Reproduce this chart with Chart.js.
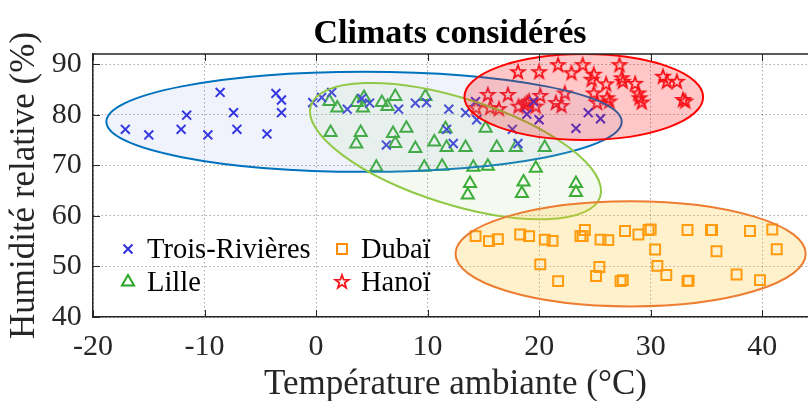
<!DOCTYPE html>
<html>
<head>
<meta charset="utf-8">
<script src="https://cdn.jsdelivr.net/npm/chart.js"></script>
<style>
  html, body { margin: 0; padding: 0; width: 808px; height: 401px; overflow: hidden; background: #fff; }
  #wrap { width: 900px; height: 401px; }
</style>
</head>
<body>
<div id="wrap"><canvas id="myChart" width="900" height="401"></canvas></div>
<script>
// values (temperature °C, relative humidity %)
const trX = [-17.1, -15.0, -12.1, -11.6, -9.7, -8.6, -7.4, -7.1, -4.4, -3.6, -3.1, -3.1, -0.3, 0.5, 1.4, 2.8, 4.1, 4.8,
             6.3, 7.4, 8.9, 9.9, 11.7, 11.9, 12.3, 13.4, 14.4, 14.3, 17.6, 18.1, 18.9, 19.5, 20.0, 23.3, 24.4, 25.5];
const trY = [77.1, 76.0, 77.1, 79.9, 76.0, 84.4, 80.4, 77.1, 76.2, 84.2, 82.9, 80.4, 82.4, 83.4, 84.4, 81.1, 83.2, 82.3,
             74.0, 81.1, 82.3, 82.4, 77.1, 81.1, 74.3, 80.4, 79.0, 82.6, 77.1, 74.3, 80.1, 82.6, 79.0, 77.3, 80.4, 79.2];

const lilleX = [1.2, 1.9, 3.65, 4.3, 4.2, 5.9, 6.4, 7.1, 9.8, 1.3, 4.0, 3.6, 6.9, 8.1, 7.1, 8.9, 10.6, 11.6,
                11.7, 13.4, 15.2, 16.2, 17.9, 20.5, 5.4, 9.7, 11.3, 14.1, 15.4, 19.7, 13.8, 13.6, 18.6, 18.45, 23.3, 23.3];
const lilleY = [82.6, 81.3, 82.4, 83.4, 81.3, 82.4, 81.6, 83.6, 83.6, 76.5, 76.5, 74.2, 76.3, 77.3, 74.3, 73.3, 74.6, 77.2,
                73.5, 73.5, 77.3, 73.5, 73.5, 73.5, 69.6, 69.6, 69.8, 69.6, 69.8, 69.4, 66.4, 64.1, 66.7, 64.4, 66.4, 64.6];

const dubaiX = [14.3, 15.5, 16.3, 18.3, 19.1, 20.5, 21.2, 23.7, 23.9, 24.1, 25.5, 26.2, 27.7, 28.9, 29.8, 30.0, 33.3, 35.4,
                35.5, 38.9, 40.9, 41.3, 30.4, 35.9, 20.1, 25.4, 30.6, 31.4, 21.7, 25.1, 27.3, 27.5, 33.3, 33.4, 37.7, 39.8];
const dubaiY = [56.0, 55.0, 55.4, 56.3, 56.0, 55.3, 55.05, 56.0, 56.0, 57.2, 55.3, 55.2, 57.0, 56.3, 57.2, 57.3, 57.2, 57.2,
                57.2, 57.0, 57.3, 53.4, 53.35, 53.0, 50.4, 49.9, 50.1, 48.3, 47.1, 48.1, 47.1, 47.3, 47.1, 47.2, 48.4, 47.3];

const hanoiX = [18.1, 20.0, 21.7, 22.9, 23.9, 24.9, 24.7, 27.2, 27.4, 27.5, 26.0, 28.6, 28.9, 29.0, 29.2, 31.1, 31.45, 32.35,
                32.9, 33.1, 24.9, 26.1, 26.3, 25.2, 22.3, 21.5, 22.0, 20.1, 19.7, 19.1, 18.7, 18.15, 17.2, 16.4, 15.4, 15.6, 14.35, 18.9];
const hanoiY = [88.4, 88.4, 89.8, 88.2, 89.8, 87.9, 86.9, 89.8, 87.2, 86.5, 86.0, 86.1, 84.2, 83.25, 82.4, 87.5, 86.5, 86.5,
                82.9, 82.6, 84.2, 83.25, 82.6, 82.3, 84.2, 82.3, 81.7, 83.7, 81.6, 82.6, 81.9, 81.6, 83.9, 81.1, 83.9, 81.3, 81.3, 82.3];

const labels = ['Trois-Rivières', 'Lille', 'Dubaï', 'Hanoï'];

// ellipses round each cloud: centre, half widths (data units), tilt (deg)
const ellCx = [4.3, 12.5, 28.2, 24.0];
const ellCy = [78.6, 72.8, 52.5, 83.5];
const ellRx = [23.1, 13.6, 15.7, 10.7];
const ellRy = [9.9, 10.5, 10.4, 8.5];
const ellAngle = [0, 17.5, 0, 0];

const xTicks = [-20, -10, 0, 10, 20, 30, 40];
const yTicks = [40, 50, 60, 70, 80, 90];

const serif = '"Liberation Serif", "Times New Roman", serif';
const axisCol = 'rgb(38,38,38)';
const blue = 'rgb(45,45,225)';
const green = 'rgb(40,165,40)';
const orange = 'rgb(255,140,0)';
const red = 'rgb(245,20,30)';

const ellStroke = ['rgb(0,114,189)', 'rgb(145,200,70)', 'rgb(237,125,49)', 'rgb(255,0,0)'];
const ellFill = ['rgba(120,150,225,0.11)', 'rgba(180,220,150,0.15)', 'rgba(255,200,50,0.25)', 'rgba(255,0,0,0.22)'];

// pentagram marker (chart.js 'star' is an asterisk)
function makeStar(color, R, lw) {
  const s = Math.ceil(2 * R + 2 * lw + 2);
  const c = document.createElement('canvas');
  c.width = s; c.height = s;
  const g = c.getContext('2d');
  g.strokeStyle = color;
  g.lineWidth = lw;
  g.beginPath();
  for (let k = 0; k < 10; k++) {
    const r = k % 2 === 0 ? R : R * 0.4;
    const a = -Math.PI / 2 + k * Math.PI / 5;
    const px = s / 2 + r * Math.cos(a), py = s / 2 + r * Math.sin(a);
    if (k === 0) g.moveTo(px, py); else g.lineTo(px, py);
  }
  g.closePath();
  g.stroke();
  return c;
}
const star = makeStar(red, 7, 1.8);

function pts(xs, ys) {
  return xs.map((x, i) => ({ x: x, y: ys[i] }));
}

const ellipsePlugin = {
  id: 'ellipses',
  afterDatasetsDraw(chart) {
    const { ctx, chartArea } = chart;
    const xs = chart.scales.x, ys = chart.scales.y;
    ctx.save();
    ctx.beginPath();
    ctx.rect(chartArea.left, chartArea.top, chartArea.width, chartArea.height);
    ctx.clip();
    for (let i = 0; i < ellCx.length; i++) {
      const px = xs.getPixelForValue(ellCx[i]);
      const py = ys.getPixelForValue(ellCy[i]);
      const rx = Math.abs(xs.getPixelForValue(ellCx[i] + ellRx[i]) - px);
      const ry = Math.abs(ys.getPixelForValue(ellCy[i] + ellRy[i]) - py);
      ctx.beginPath();
      ctx.ellipse(px, py, rx, ry, ellAngle[i] * Math.PI / 180, 0, 2 * Math.PI);
      ctx.fillStyle = ellFill[i];
      ctx.fill();
      ctx.lineWidth = 2;
      ctx.strokeStyle = ellStroke[i];
      ctx.stroke();
    }
    ctx.restore();
  }
};

function drawMarker(ctx, ds, x, y) {
  const r = ds.pointRadius;
  ctx.save();
  ctx.strokeStyle = ds.borderColor;
  ctx.lineWidth = ds.pointBorderWidth;
  ctx.beginPath();
  if (ds.pointStyle === 'crossRot') {
    const o = r * Math.SQRT1_2;
    ctx.moveTo(x - o, y - o); ctx.lineTo(x + o, y + o);
    ctx.moveTo(x - o, y + o); ctx.lineTo(x + o, y - o);
    ctx.stroke();
  } else if (ds.pointStyle === 'triangle') {
    for (let k = 0; k < 3; k++) {
      const a = k * 2 * Math.PI / 3;
      const px = x + Math.sin(a) * r, py = y - Math.cos(a) * r;
      if (k === 0) ctx.moveTo(px, py); else ctx.lineTo(px, py);
    }
    ctx.closePath();
    ctx.stroke();
  } else if (ds.pointStyle === 'rect') {
    const o = r * Math.SQRT1_2;
    ctx.rect(x - o, y - o, 2 * o, 2 * o);
    ctx.stroke();
  } else {
    const img = ds.pointStyle;
    ctx.drawImage(img, x - img.width / 2, y - img.height / 2);
  }
  ctx.restore();
}

// legend sits inside the axes, two columns, no frame
const legendPlugin = {
  id: 'innerLegend',
  afterDraw(chart) {
    const { ctx, chartArea } = chart;
    const cols = [chartArea.left + 35, chartArea.left + 249];
    const rows = [chartArea.top + 195, chartArea.top + 228];
    const order = [[0, 0, 0], [1, 0, 1], [2, 1, 0], [3, 1, 1]];
    ctx.save();
    ctx.font = '28.5px ' + serif;
    ctx.fillStyle = '#000';
    ctx.textBaseline = 'alphabetic';
    order.forEach(([d, c, r]) => {
      const ds = chart.data.datasets[d];
      drawMarker(ctx, ds, cols[c], rows[r]);
      ctx.fillText(ds.label, cols[c] + 19, rows[r] + 9);
    });
    ctx.restore();
  }
};

// title centred on the figure, not on the axes
const titlePlugin = {
  id: 'figTitle',
  afterDraw(chart) {
    const ctx = chart.ctx;
    ctx.save();
    ctx.font = 'bold 34px ' + serif;
    ctx.fillStyle = '#000';
    ctx.textAlign = 'center';
    ctx.textBaseline = 'alphabetic';
    ctx.fillText('Climats considérés', chart.width / 2, 43);
    ctx.restore();
  }
};

// top/right frame line and inward tick marks
const boxPlugin = {
  id: 'box',
  afterDraw(chart) {
    const { ctx, chartArea } = chart;
    const xs = chart.scales.x, ys = chart.scales.y;
    const tl = 7;
    ctx.save();
    ctx.strokeStyle = axisCol;
    ctx.lineWidth = 1.5;
    ctx.beginPath();
    ctx.moveTo(chartArea.left, chartArea.top);
    ctx.lineTo(chartArea.right, chartArea.top);
    ctx.lineTo(chartArea.right, chartArea.bottom);
    ctx.stroke();
    ctx.lineWidth = 1;
    ctx.beginPath();
    xTicks.forEach(v => {
      const px = Math.round(xs.getPixelForValue(v)) + 0.5;
      ctx.moveTo(px, chartArea.bottom); ctx.lineTo(px, chartArea.bottom - tl);
      ctx.moveTo(px, chartArea.top); ctx.lineTo(px, chartArea.top + tl);
    });
    yTicks.forEach(v => {
      const py = Math.round(ys.getPixelForValue(v)) + 0.5;
      ctx.moveTo(chartArea.left, py); ctx.lineTo(chartArea.left + tl, py);
      ctx.moveTo(chartArea.right, py); ctx.lineTo(chartArea.right - tl, py);
    });
    ctx.stroke();
    ctx.restore();
  }
};

const gridOpts = { color: 'rgba(0,0,0,0.35)', lineWidth: 1, drawTicks: false };
const borderOpts = { display: true, color: axisCol, width: 1.5, dash: [1.5, 2.5] };

const config = {
  type: 'scatter',
  data: {
    datasets: [
      { label: labels[0], data: pts(trX, trY), pointStyle: 'crossRot', pointRadius: 6.3,
        borderColor: blue, backgroundColor: 'rgba(0,0,0,0)', pointBorderWidth: 2 },
      { label: labels[1], data: pts(lilleX, lilleY), pointStyle: 'triangle', pointRadius: 7,
        borderColor: green, backgroundColor: 'rgba(0,0,0,0)', pointBorderWidth: 2 },
      { label: labels[2], data: pts(dubaiX, dubaiY), pointStyle: 'rect', pointRadius: 7,
        borderColor: orange, backgroundColor: 'rgba(0,0,0,0)', pointBorderWidth: 2 },
      { label: labels[3], data: pts(hanoiX, hanoiY), pointStyle: star, pointRadius: 7,
        borderColor: red, backgroundColor: 'rgba(0,0,0,0)', pointBorderWidth: 2 }
    ]
  },
  options: {
    responsive: false,
    animation: false,
    events: [],
    layout: { padding: { left: 0, right: 82, top: 54, bottom: 0 } },
    plugins: {
      legend: { display: false },
      tooltip: { enabled: false },
      title: { display: false }
    },
    scales: {
      x: {
        type: 'linear',
        min: -20, max: 45,
        afterBuildTicks: s => { s.ticks = xTicks.map(v => ({ value: v })); },
        afterFit: s => { s.height = 84; },
        grid: gridOpts,
        border: borderOpts,
        ticks: { color: axisCol, padding: 12.5, font: { family: serif, size: 30 } },
        title: {
          display: true,
          text: 'Température ambiante (°C)',
          color: axisCol,
          font: { family: serif, size: 35, lineHeight: 0.92 },
          padding: { top: 0, bottom: 0 }
        }
      },
      y: {
        type: 'linear',
        min: 40, max: 92,
        afterBuildTicks: s => { s.ticks = yTicks.map(v => ({ value: v })); },
        afterFit: s => { s.width = 93; },
        grid: gridOpts,
        border: borderOpts,
        ticks: { color: axisCol, padding: 11.3, font: { family: serif, size: 30 } },
        title: {
          display: true,
          text: 'Humidité relative (%)',
          color: axisCol,
          font: { family: serif, size: 35, lineHeight: 1 },
          padding: { top: 7.8, bottom: 0 }
        }
      }
    }
  },
  plugins: [ellipsePlugin, boxPlugin, legendPlugin, titlePlugin]
};

const ctx = document.getElementById('myChart').getContext('2d');
const myChart = new Chart(ctx, config);
</script>
</body>
</html>
